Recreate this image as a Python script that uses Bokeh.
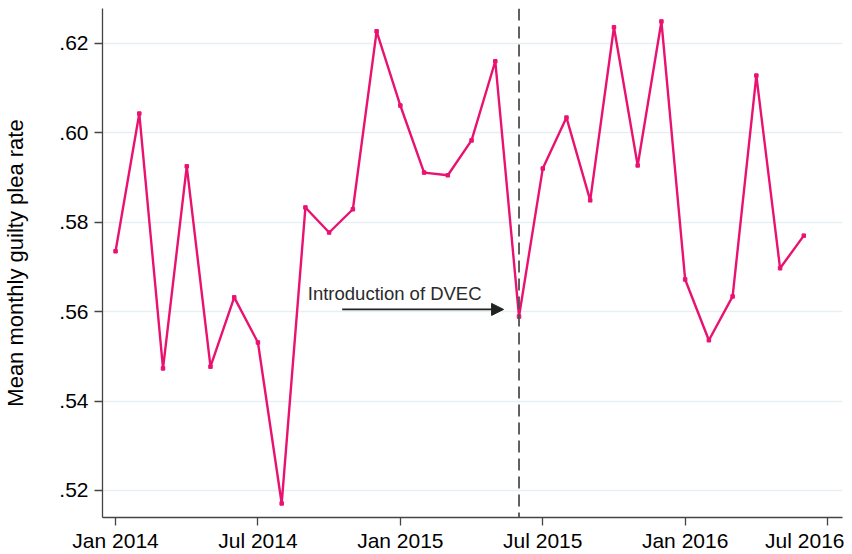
from bokeh.plotting import figure
from bokeh.models import FixedTicker, Span, Arrow, NormalHead, Label, Range1d
from bokeh.embed import file_html
from bokeh.resources import INLINE

months = list(range(30))  # 0 = Jan 2014 ... 29 = Jun 2016
rate = [0.5735, 0.6043, 0.5473, 0.5925, 0.5477, 0.5632, 0.5531, 0.5171,
        0.5833, 0.5777, 0.5829, 0.6227, 0.6061, 0.5911, 0.5905, 0.5983,
        0.6160, 0.5589, 0.5920, 0.6034, 0.5849, 0.6236, 0.5927, 0.6249,
        0.5672, 0.5536, 0.5634, 0.6128, 0.5697, 0.5770]
x_ticks = [0, 6, 12, 18, 24, 30]
x_tick_labels = ["Jan 2014", "Jul 2014", "Jan 2015", "Jul 2015", "Jan 2016", "Jul 2016"]
y_ticks = [0.52, 0.54, 0.56, 0.58, 0.60, 0.62]
y_tick_labels = [".52", ".54", ".56", ".58", ".60", ".62"]
policy_month = 17  # Jun 2015
annot_text = "Introduction of DVEC"

FONT = "Liberation Sans"
PINK = "#ea1270"

p = figure(frame_width=740, frame_height=509, output_backend="svg", toolbar_location=None,
           x_range=Range1d(-0.55, 30.63), y_range=Range1d(0.51396, 0.6278),
           min_border_left=102, min_border_right=2, min_border_top=8, min_border_bottom=30)
p.outline_line_color = None
p.background_fill_color = "white"

p.xgrid.grid_line_color = None
p.ygrid.grid_line_color = "#e6f0f3"
p.ygrid.grid_line_width = 1.5

p.xaxis.ticker = FixedTicker(ticks=x_ticks)
p.xaxis.major_label_overrides = {t: l for t, l in zip(x_ticks, x_tick_labels)}
p.yaxis.ticker = FixedTicker(ticks=y_ticks)
p.yaxis.major_label_overrides = {t: l for t, l in zip(y_ticks, y_tick_labels)}
p.yaxis.axis_label = "Mean monthly guilty plea rate"

for ax in (p.xaxis, p.yaxis):
    ax.axis_line_color = "#444444"
    ax.axis_line_width = 1.3
    ax.major_tick_line_color = "#444444"
    ax.major_tick_line_width = 1.3
    ax.major_tick_out = 8
    ax.major_tick_in = 0
    ax.minor_tick_line_color = None
    ax.major_label_text_font = FONT
    ax.major_label_text_font_size = "21px"
    ax.major_label_text_color = "black"
    ax.axis_label_text_font = FONT
    ax.axis_label_text_font_size = "22px"
    ax.axis_label_text_font_style = "normal"
    ax.axis_label_text_color = "black"
p.yaxis.axis_label_standoff = 28
p.xaxis.major_label_standoff = 3
p.yaxis.major_label_standoff = 6

p.add_layout(Span(location=policy_month, dimension="height", line_color="#505050",
                  line_width=1.8, line_dash="12 6"))

p.line(months, rate, line_color=PINK, line_width=2.4)
p.scatter(months, rate, marker="square", size=3.5, color=PINK)

p.add_layout(Arrow(end=NormalHead(size=12, fill_color="#222222", line_color="#222222"),
                   x_start=9.55, y_start=0.5605, x_end=16.35, y_end=0.5605,
                   line_color="#222222", line_width=1.6))
p.add_layout(Label(x=8.1, y=0.5640, text=annot_text, text_font=FONT,
                   text_font_size="18.5px", text_color="#2a2a2a",
                   text_baseline="middle", text_align="left"))

open("out.html", "w").write(file_html(p, INLINE))
